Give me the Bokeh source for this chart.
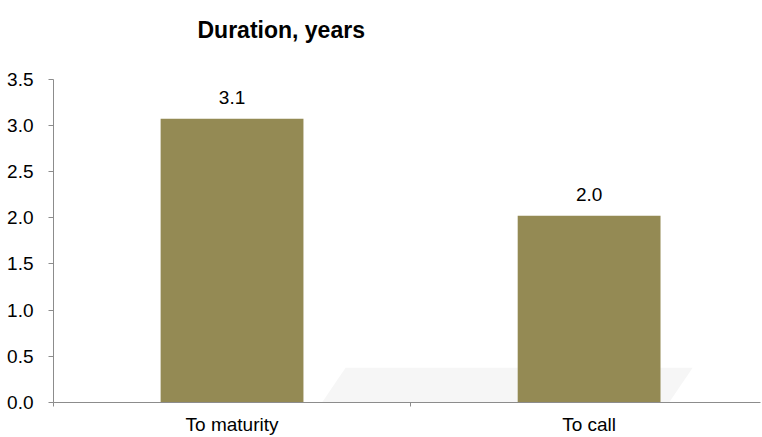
from bokeh.plotting import figure
from bokeh.models import ColumnDataSource, Range1d, FixedTicker, NumeralTickFormatter
from bokeh.core.properties import value
from bokeh.embed import file_html
from bokeh.resources import INLINE

# Duration data
categories = ["To maturity", "To call"]
durations = [3.07, 2.02]
y_ticks = [0.0, 0.5, 1.0, 1.5, 2.0, 2.5, 3.0, 3.5]
title_text = "Duration, years"

FONT = "Liberation Sans"
BAR_COLOR = "#948A54"
AXIS_COLOR = "#8c8c8c"
TEXT_SIZE = "19px"
Y_AXIS_MAX = 3.5
Y_VIEW_TOP = 4.35   # headroom above the axis holds the title

centers = [i + 0.5 for i in range(len(categories))]
source = ColumnDataSource(dict(
    x=centers,
    top=durations,
    label=[f"{v:.1f}" for v in durations],
))

p = figure(width=762, height=437, output_backend="svg", toolbar_location=None,
           x_range=Range1d(0, 1.98), y_range=Range1d(0, Y_VIEW_TOP),
           min_border_left=53, min_border_right=2,
           min_border_top=0, min_border_bottom=30)
p.outline_line_color = None
p.xgrid.visible = False
p.ygrid.visible = False
p.background_fill_color = "white"

# faint slanted backdrop band along the baseline
p.patch(x=[0.818, 1.79, 1.724, 0.752], y=[0.376, 0.376, 0.0, 0.0],
        fill_color="#f6f6f6", line_color=None, level="underlay")

p.vbar(x="x", top="top", width=0.40, bottom=0, source=source,
       fill_color=BAR_COLOR, line_color=None)

p.text(x="x", y="top", text="label", source=source,
       text_font=value(FONT), text_font_size=TEXT_SIZE, text_color="#000000",
       text_align="center", text_baseline="alphabetic", y_offset=-21)

# title, drawn in the headroom at the top-left
p.text(x=[0], y=[Y_VIEW_TOP], text=[title_text], x_offset=144, y_offset=29,
       text_font=value(FONT), text_font_size="23px", text_font_style="bold",
       text_color="#000000", text_align="left", text_baseline="alphabetic")

# y axis, drawn only up to 3.5
ya = p.yaxis[0]
ya.bounds = (0, Y_AXIS_MAX)
ya.ticker = FixedTicker(ticks=y_ticks)
ya.formatter = NumeralTickFormatter(format="0.0")
ya.axis_line_color = AXIS_COLOR
ya.major_tick_line_color = AXIS_COLOR
ya.major_tick_out = 5
ya.major_tick_in = 0
ya.minor_tick_line_color = None
ya.major_label_standoff = 15
ya.major_label_text_font = FONT
ya.major_label_text_font_size = TEXT_SIZE
ya.major_label_text_color = "#000000"

# x axis: labels at category centres, tick marks on the boundaries
xa = p.xaxis[0]
xa.ticker = FixedTicker(ticks=centers, minor_ticks=[0, 1, 2])
xa.major_label_overrides = {c: name for c, name in zip(centers, categories)}
xa.axis_line_color = AXIS_COLOR
xa.major_tick_line_color = None
xa.major_tick_out = 4
xa.major_tick_in = 0
xa.minor_tick_line_color = AXIS_COLOR
xa.minor_tick_out = 4
xa.minor_tick_in = 0
xa.major_label_standoff = 7
xa.major_label_text_font = FONT
xa.major_label_text_font_size = TEXT_SIZE
xa.major_label_text_color = "#000000"

open("out.html", "w").write(file_html(p, INLINE))
